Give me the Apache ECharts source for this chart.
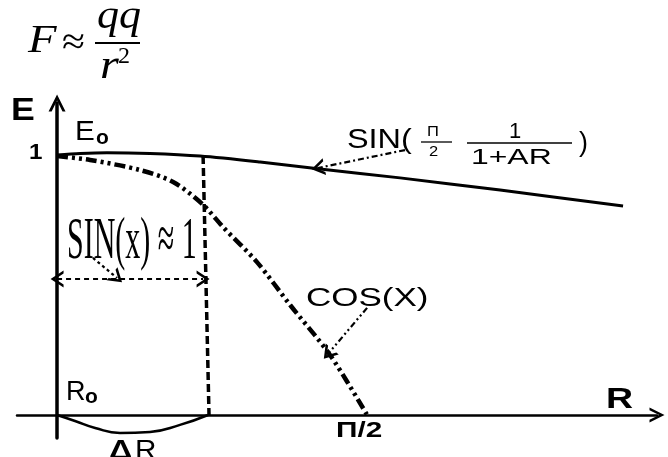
<!DOCTYPE html>
<html>
<head>
<meta charset="utf-8">
<script src="https://cdn.jsdelivr.net/npm/echarts@6/dist/echarts.min.js"></script>
<style>
  html, body { margin: 0; padding: 0; background: #fff; }
  #chart { width: 668px; height: 457px; }
</style>
</head>
<body>
<div id="chart"></div>
<script>
// x in radians (pi/2 where cos hits the R axis), y relative to E0 = 1
const sinX = [0, 0.117, 0.253, 0.471, 0.725, 1.029, 1.333, 1.738, 2.245, 2.868];
const sinY = [1.0, 1.006, 1.009, 1.006, 0.996, 0.973, 0.946, 0.912, 0.865, 0.804];

const cosX = [0, 0.167, 0.421, 0.588, 0.735, 0.841, 1.013, 1.181, 1.383, 1.571];
const cosY = [0.996, 0.981, 0.942, 0.896, 0.812, 0.723, 0.588, 0.423, 0.231, 0];

const dRX = [0, 0.091, 0.193, 0.319, 0.471, 0.623, 0.765];
const dRY = [0, -0.023, -0.05, -0.069, -0.065, -0.038, 0];

const limitX = [0.740, 0.770];
const limitY = [0.996, 0];

// pointer arrows: [from, to]
const sinPointer = [[1.763, 1.019], [1.322, 0.950]];
const cosPointer = [[1.571, 0.412], [1.373, 0.235]];
const sinxPointer = [[0.182, 0.604], [0.304, 0.527]];
const spanArrow = [[0, 0.523], [0.740, 0.523]];

const zip = (xs, ys) => xs.map((x, i) => [x, ys[i]]);

const CHEV = "path://M0,10 L5,0 L10,10 L8.2,10 L5,3.6 L1.8,10 Z";
const SANS = '"Liberation Sans", Arial, sans-serif';
const SERIF = '"Liberation Serif", "Times New Roman", serif';

function txt(x, y, text, font, sx) {
  return {
    type: "text",
    x: x,
    y: y,
    scaleX: sx || 1,
    silent: true,
    style: {
      text: text,
      font: font,
      fill: "#000",
      textAlign: "left",
      align: "left",
      textVerticalAlign: "middle",
      verticalAlign: "middle",
    },
  };
}

function hline(x1, x2, y, w) {
  return {
    type: "line",
    silent: true,
    shape: { x1: x1, y1: y, x2: x2, y2: y },
    style: { stroke: "#000", lineWidth: w || 1.5 },
  };
}

function pointer(pair, dash, both) {
  return [
    { coord: pair[0], symbol: both ? CHEV : "none", symbolSize: [17, 13],
      lineStyle: { type: dash, width: 2.2, color: "#000" } },
    { coord: pair[1], symbol: CHEV, symbolSize: [17, 13] },
  ];
}

const chart = echarts.init(document.getElementById("chart"));

chart.setOption({
  animation: false,
  backgroundColor: "#fff",
  grid: { left: 17, right: 11, top: 103, bottom: 19, containLabel: false },
  xAxis: {
    type: "value",
    min: -0.203,
    max: 3.04,
    axisLine: {
      onZero: true,
      symbol: ["none", CHEV],
      symbolSize: [15, 19],
      lineStyle: { color: "#000", width: 2.5 },
    },
    axisTick: { show: false },
    axisLabel: { show: false },
    splitLine: { show: false },
  },
  yAxis: {
    type: "value",
    min: -0.0885,
    max: 1.2,
    axisLine: {
      onZero: true,
      symbol: ["none", CHEV],
      symbolSize: [19, 17],
      lineStyle: { color: "#000", width: 3.5 },
    },
    axisTick: { show: false },
    axisLabel: { show: false },
    splitLine: { show: false },
  },
  series: [
    {
      name: "sin",
      type: "line",
      data: zip(sinX, sinY),
      smooth: 0.3,
      showSymbol: false,
      lineStyle: { color: "#000", width: 3 },
      markLine: {
        silent: true,
        animation: false,
        label: { show: false },
        emphasis: { disabled: true },
        data: [
          pointer(sinPointer, [6, 3, 2, 3]),
          pointer(cosPointer, [6, 3, 2, 3, 2, 3]),
          pointer(sinxPointer, [3, 3]),
          pointer(spanArrow, [5, 4], true),
        ],
      },
    },
    {
      name: "cos",
      type: "line",
      data: zip(cosX, cosY),
      smooth: 0.3,
      showSymbol: false,
      lineStyle: { color: "#000", width: 4.5, type: [11, 4, 3, 4, 3, 4] },
    },
    {
      name: "limit",
      type: "line",
      data: zip(limitX, limitY),
      showSymbol: false,
      lineStyle: { color: "#000", width: 3.5, type: [8, 4] },
    },
    {
      name: "dR",
      type: "line",
      data: zip(dRX, dRY),
      smooth: 0.5,
      showSymbol: false,
      lineStyle: { color: "#000", width: 2.5 },
    },
  ],
  graphic: [
    // formula
    txt(28, 42, "F", "italic 39px " + SERIF, 1.2),
    txt(62, 44, "\u2248", "38px " + SERIF, 1.1),
    txt(97, 17, "qq", "italic 40px " + SERIF, 1.1),
    hline(95, 140, 43, 1.8),
    txt(100, 67, "r", "italic 42px " + SERIF, 1.15),
    txt(118, 57, "2", "24px " + SERIF, 1.0),

    // axis labels
    txt(11, 111, "E", "bold 31px " + SANS, 1.15),
    txt(29, 152.5, "1", "bold 22px " + SANS, 1.1),
    txt(75, 132.5, "E", "27px " + SANS, 1.1),
    txt(96, 138, "o", "bold 21px " + SANS, 1.0),
    txt(66, 392.5, "R", "27px " + SANS, 1.0),
    txt(85, 397, "o", "bold 21px " + SANS, 1.0),
    txt(606, 400, "R", "bold 30px " + SANS, 1.25),
    txt(336, 430.5, "\u03A0/2", "bold 22px " + SANS, 1.35),
    txt(109, 451.5, "\u0394", "bold 27px " + SANS, 1.2),
    txt(135, 451.5, "R", "27px " + SANS, 1.1),

    // curve labels
    txt(306, 299, "COS(X)", "25px " + SANS, 1.4),
    txt(347, 141, "SIN(", "27px " + SANS, 1.2),
    txt(427, 132, "\u03A0", "15px " + SANS, 1.1),
    hline(421, 452, 142, 1.3),
    txt(429, 152, "2", "15px " + SANS, 1.1),
    txt(509, 132, "1", "22px " + SANS, 1.0),
    hline(467, 572, 143, 1.5),
    txt(471, 157.5, "1+AR", "22px " + SANS, 1.45),
    txt(579, 144, ")", "27px " + SANS, 1.0),

    // SIN(x) ≈ 1
    txt(67, 242.5, "SIN(x) \u2248 1", "60px " + SERIF, 0.5),
  ],
});
</script>
</body>
</html>
